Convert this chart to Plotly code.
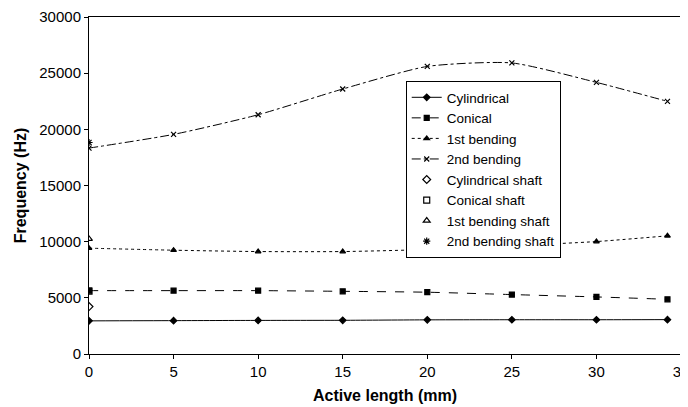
import plotly.graph_objects as go

x = [0, 5, 10, 15, 20, 25, 30, 34.2]
cylindrical = [2950, 2970, 2990, 3000, 3040, 3050, 3050, 3060]
conical = [5640, 5640, 5640, 5580, 5500, 5290, 5080, 4870]
bending1 = [9420, 9240, 9120, 9120, 9300, 9630, 10010, 10520]
bending2 = [18330, 19550, 21300, 23590, 25600, 25910, 24180, 22490]

shaft_x = [0]
cyl_shaft = [4220]
con_shaft = [5600]
b1_shaft = [10250]
b2_shaft = [18830]

font = "Liberation Sans, Arial, sans-serif"
fig = go.Figure()

line_series = [
    ("Cylindrical", cylindrical, "solid", "diamond", 5),
    ("Conical", conical, "dash", "square", 5),
    ("1st bending", bending1, "dot", "triangle-up", 5),
    ("2nd bending", bending2, "dashdot", "x-thin", 5),
]
for name, y, dash, sym, size in line_series:
    fig.add_trace(go.Scatter(
        x=x, y=y, name=name, mode="lines+markers",
        line=dict(color="black", width=1, dash=dash, shape="spline", smoothing=0.6),
        marker=dict(symbol=sym, size=size, color="black",
                    line=dict(color="black", width=1.2)),
    ))

shaft_series = [
    ("Cylindrical shaft", cyl_shaft, "diamond-open"),
    ("Conical shaft", con_shaft, "square-open"),
    ("1st bending shaft", b1_shaft, "triangle-up-open"),
    ("2nd bending shaft", b2_shaft, "asterisk-open"),
]
for name, y, sym in shaft_series:
    fig.add_trace(go.Scatter(
        x=shaft_x, y=y, name=name, mode="markers",
        marker=dict(symbol=sym, size=6, color="black",
                    line=dict(color="black", width=1.2)),
    ))

# page body has an 8px margin, so the figure is sized to fit the window
fig.update_layout(
    width=680, height=399,
    margin=dict(l=81, r=7, t=9, b=53),
    paper_bgcolor="white", plot_bgcolor="white",
    font=dict(family=font, size=14, color="black"),
    showlegend=True,
    legend=dict(
        x=0.535, y=0.81, xanchor="left", yanchor="top",
        bordercolor="black", borderwidth=1, bgcolor="white",
        font=dict(family=font, size=13.5, color="black"),
        tracegroupgap=0, itemwidth=30,
    ),
    xaxis=dict(
        range=[0, 35], dtick=5, tick0=0, automargin=False,
        showgrid=False, zeroline=False,
        showline=True, linecolor="black", linewidth=1, mirror=True,
        ticks="outside", ticklen=4, tickcolor="black",
        tickfont=dict(family=font, size=15),
        ticklabeloverflow="allow",
        title=dict(text="<b>Active length (mm)</b>", font=dict(family=font, size=16), standoff=10),
    ),
    yaxis=dict(
        range=[0, 30000], dtick=5000, tick0=0, tickformat="d", automargin=False,
        showgrid=False, zeroline=False,
        showline=True, linecolor="black", linewidth=1, mirror=True,
        ticks="outside", ticklen=4, tickcolor="black",
        tickfont=dict(family=font, size=15),
        title=dict(text="<b>Frequency (Hz)</b>", font=dict(family=font, size=16), standoff=8),
    ),
)

fig.write_html("out.html")
